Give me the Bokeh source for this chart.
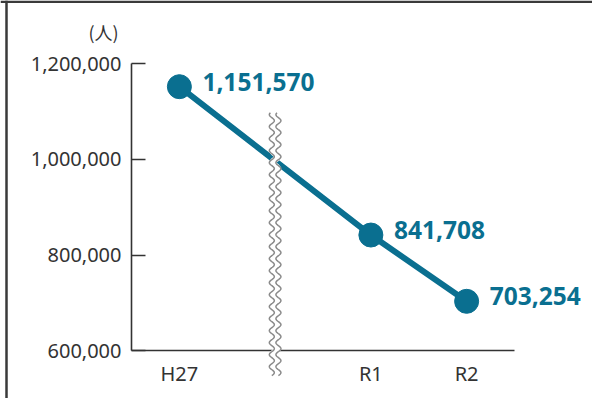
import numpy as np
from bokeh.plotting import figure
from bokeh.core.properties import value
from bokeh.models import (ColumnDataSource, Range1d, FixedTicker, LabelSet, Label,
                          Span, NumeralTickFormatter)
from bokeh.embed import file_html
from bokeh.resources import INLINE

# ---- data ----
categories = ["H27", "R1", "R2"]
values = [1151570, 841708, 703254]
value_labels = ["1,151,570", "841,708", "703,254"]
slots = ["H27", "break", "R1", "R2"]          # axis slots (the wavy break sits in slot "break")
y_ticks = [600000, 800000, 1000000, 1200000]
unit_label = "(人)"

COLOR = "#0a6f90"
FONT = "Noto Sans"
CJK = "Noto Sans CJK JP"

W, H = 592, 398
# plot area geometry inside the canvas (px)
FL, FT, PXU = 131, 63, 95.75          # left of axis, top of axis, px per slot
PXY = 95.75 / 200000                  # px per person

xs = [slots.index(c) for c in categories]
src = ColumnDataSource(dict(x=xs, y=values, label=value_labels))

x0 = -0.5 - FL / PXU
x1 = -0.5 + (W - FL) / PXU
y1 = y_ticks[-1] + FT / PXY
y0 = y_ticks[-1] - (H - FT) / PXY

p = figure(width=W, height=H, output_backend="svg", toolbar_location=None,
           x_range=Range1d(x0, x1), y_range=Range1d(y0, y1),
           min_border=0, min_border_left=0, min_border_right=0,
           min_border_top=0, min_border_bottom=0)
p.background_fill_color = "white"
p.border_fill_color = "white"
p.outline_line_color = None
p.grid.visible = False

# axes
ax = p.xaxis[0]
ax.ticker = FixedTicker(ticks=xs)
ax.major_label_overrides = {x: c for x, c in zip(xs, categories)}
ax.fixed_location = y_ticks[0]
ax.bounds = (-0.5, len(slots) - 0.5)
ax.major_tick_line_color = None
ax.minor_tick_line_color = None
ax.axis_line_color = "#333333"
ax.axis_line_width = 1.6
ax.major_label_text_font = FONT
ax.major_label_text_font_size = "20px"
ax.major_label_text_color = "#333333"
ax.major_label_standoff = 3

ay = p.yaxis[0]
ay.ticker = FixedTicker(ticks=y_ticks)
ay.formatter = NumeralTickFormatter(format="0,0")
ay.fixed_location = -0.5
ay.bounds = (y_ticks[0], y_ticks[-1])
ay.major_tick_in = 14
ay.major_tick_out = 0
ay.minor_tick_line_color = None
ay.axis_line_color = "#333333"
ay.axis_line_width = 1.6
ay.major_tick_line_color = "#333333"
ay.major_tick_line_width = 1.6
ay.major_label_text_font = FONT
ay.major_label_text_font_size = "20px"
ay.major_label_text_color = "#333333"
ay.major_label_standoff = 10

# data line + markers
p.line("x", "y", source=src, line_color=COLOR, line_width=6)
p.scatter("x", "y", source=src, size=24, fill_color=COLOR, line_color=COLOR)

# wavy axis break (decoration)
bx = slots.index("break")
wy = np.linspace(548000, 1097000, 600)
phase = (wy - wy[0]) * PXY / 12.0 * 2 * np.pi
wave = 2.5 / PXU * np.sin(phase)
gap = 3.3 / PXU
p.line(bx + wave, wy, line_color="white", line_width=6.5, level="overlay")
p.line(bx + wave - gap, wy, line_color="#8a8a8a", line_width=1.5, level="overlay")
p.line(bx + wave + gap, wy, line_color="#8a8a8a", line_width=1.5, level="overlay")

# value labels
p.add_layout(LabelSet(x="x", y="y", text="label", source=src, x_offset=23, y_offset=5,
                      text_baseline="middle", text_align="left",
                      text_font=value(FONT), text_font_style="bold",
                      text_font_size="24.5px", text_color=COLOR))

# unit label
p.add_layout(Label(x=-0.5, y=y_ticks[-1], x_offset=-28, y_offset=32, text=unit_label,
                   text_align="center", text_baseline="middle",
                   text_font=CJK, text_font_size="18px", text_color="#333333"))

# panel border (left and top edges)
p.add_layout(Span(location=x0 + 6 / PXU, dimension="height",
                  line_color="#3a3a3a", line_width=2.5, level="overlay"))
p.add_layout(Span(location=y1 - 1.2 / PXY, dimension="width",
                  line_color="#3a3a3a", line_width=2.5, level="overlay"))

open("out.html", "w").write(file_html(p, INLINE))
